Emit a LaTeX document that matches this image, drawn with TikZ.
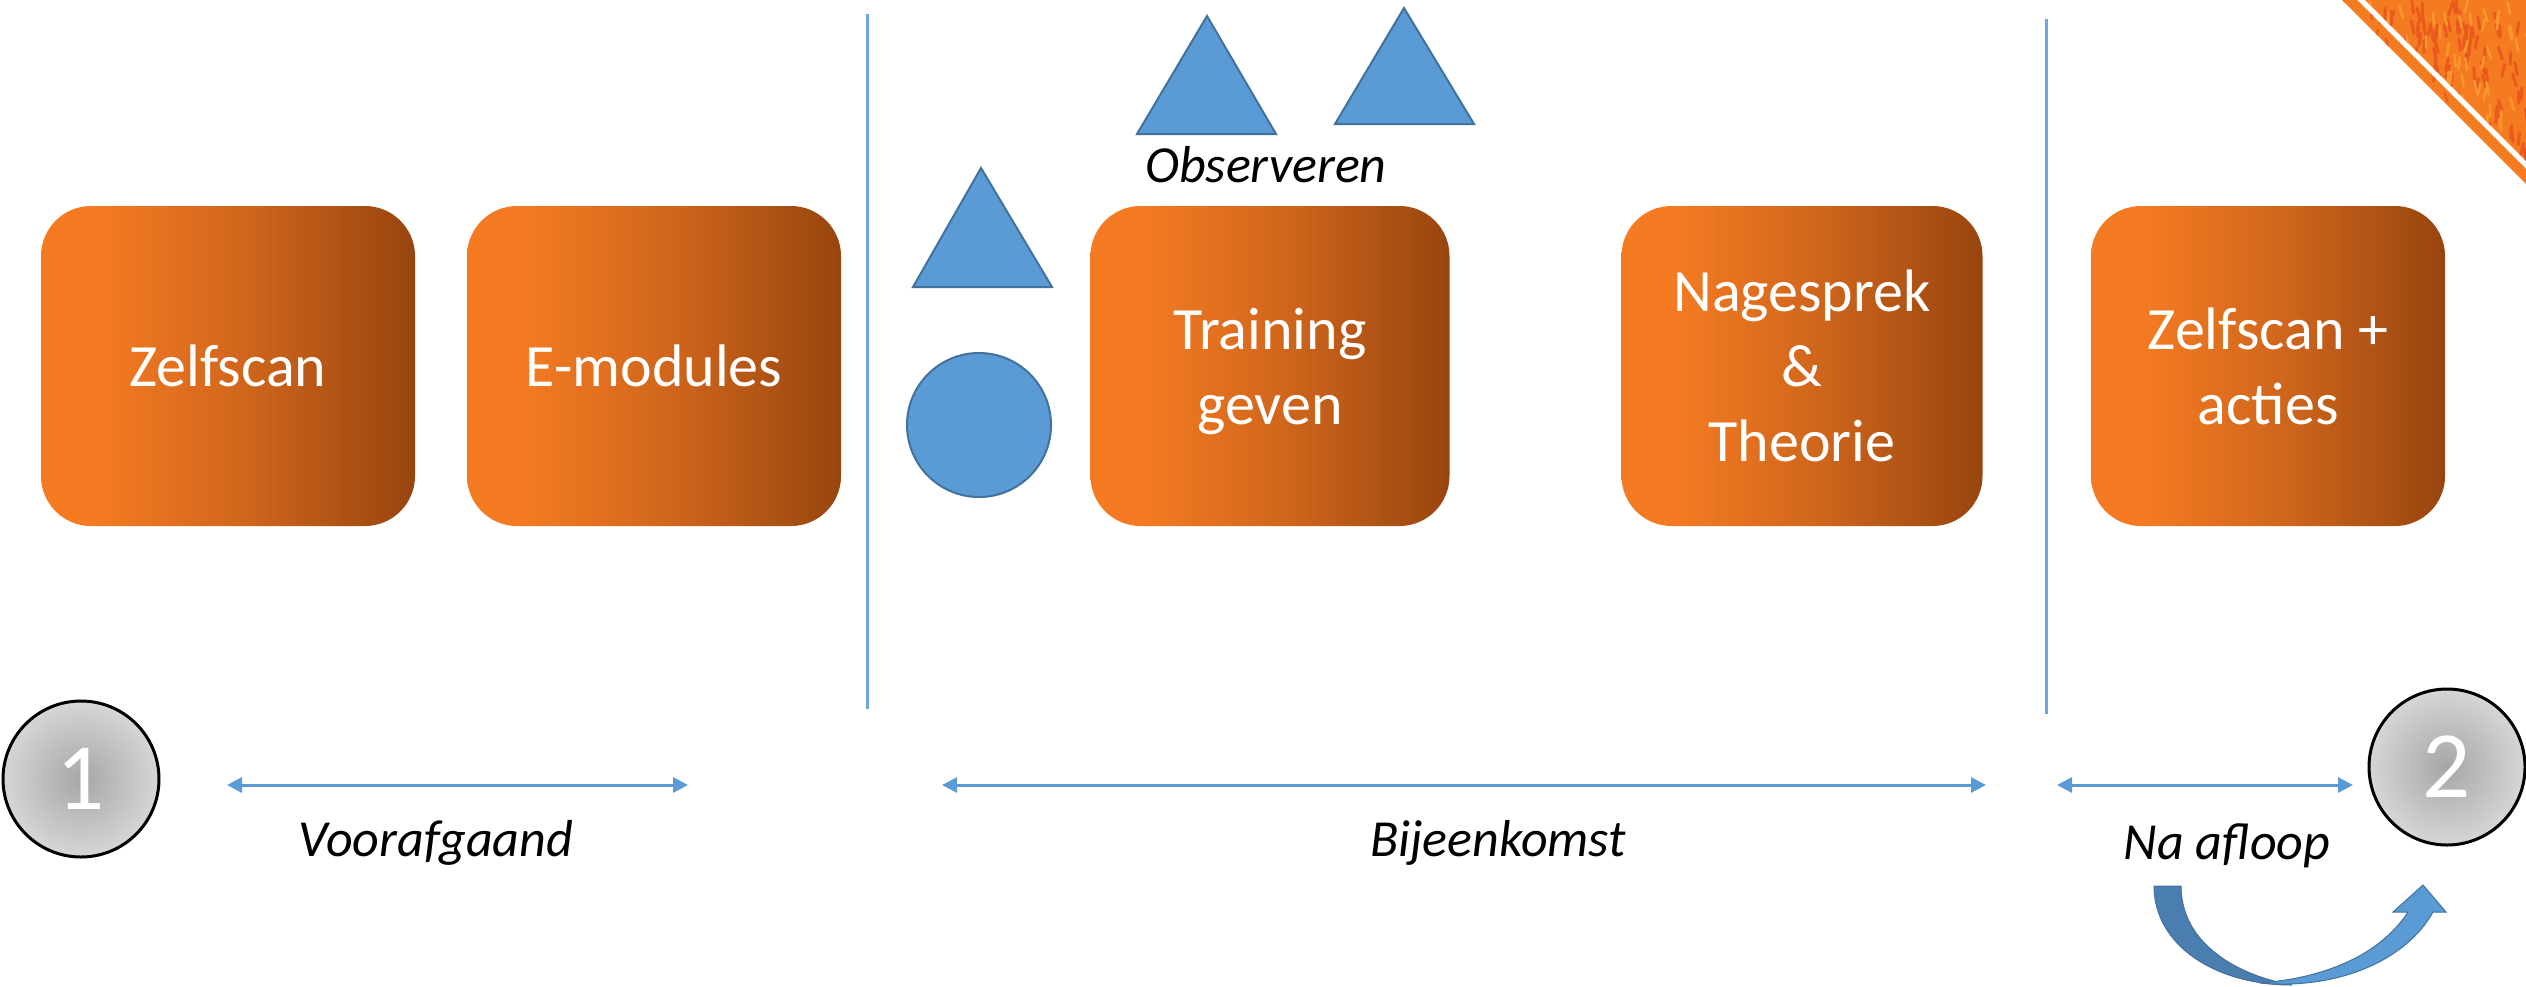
\documentclass[tikz,border=0pt]{standalone}
\usepackage{fontspec}
\setmainfont{Carlito}
\usetikzlibrary{arrows.meta}
\definecolor{orA}{HTML}{F57B22}
\definecolor{orM}{HTML}{D0661C}
\definecolor{orB}{HTML}{97450F}
\definecolor{blueF}{HTML}{5B9BD5}
\definecolor{blueD}{HTML}{41719C}
\definecolor{blueDark}{HTML}{4A7DB0}
\definecolor{lineBlue}{HTML}{6FA8DC}
\definecolor{ciA}{HTML}{A6A6A6}
\definecolor{ciB}{HTML}{D6D6D6}
\definecolor{corA}{HTML}{F47B20}
\definecolor{corB}{HTML}{EA5A1E}
\definecolor{corC}{HTML}{F9962C}
\pgfdeclarehorizontalshading{boxshade}{100bp}{color(0bp)=(orA); color(32bp)=(orA); color(52bp)=(orM); color(75bp)=(orB); color(100bp)=(orB)}
\tikzset{
  phase/.style={shading=boxshade, rounded corners=50pt, inner sep=0pt, text=white,
    align=center, font=\fontsize{60}{75}\selectfont, minimum height=320pt},
  bluesh/.style={fill=blueF, draw=blueD, line width=2pt},
  numcirc/.style={circle, shading=radial, inner color=ciA, outer color=ciB, draw=black,
    line width=3pt, minimum size=156pt, inner sep=0pt, text=white, font=\fontsize{95}{95}\selectfont},
  lbl/.style={font=\fontsize{52}{60}\selectfont\itshape, inner sep=0pt},
  span/.style={draw=blueF, line width=3pt, {Triangle[length=15pt,width=15pt]}-{Triangle[length=15pt,width=15pt]}},
  sep/.style={draw=lineBlue, line width=3pt}
}
\begin{document}
\begin{tikzpicture}[x=1pt,y=-1pt]
\useasboundingbox (0,0) rectangle (2526,986);
% corner decoration
\begin{scope}
\clip (2342,0) -- (2357,0) -- (2526,169) -- (2526,184) -- cycle;
\fill[corA] (2342,0) -- (2357,0) -- (2526,169) -- (2526,184) -- cycle;
\pgfmathsetseed{11}
\foreach \i in {1,...,60}{
  \draw[corB, line width=2pt, line cap=round] (2340+rnd*186, rnd*186) -- ++(rnd*6-3, 8);
}
\end{scope}
\begin{scope}
\clip (2365,0) -- (2526,0) -- (2526,161) -- cycle;
\fill[corA] (2365,0) -- (2526,0) -- (2526,161) -- cycle;
\pgfmathsetseed{7}
\foreach \i in {1,...,160}{
  \draw[corB, line width=3pt, line cap=round] (2360+rnd*170, rnd*165) -- ++(rnd*8-4, 12);
}
\foreach \i in {1,...,90}{
  \draw[corC, line width=2.5pt, line cap=round] (2360+rnd*170, rnd*165) -- ++(rnd*8-4, 12);
}
\end{scope}
% separators
\coordinate (s1t) at (867,14);
\coordinate (s1b) at (867,709);
\coordinate (s2t) at (2046,19);
\coordinate (s2b) at (2046,714);
\draw[sep] (s1t) -- (s1b);
\draw[sep] (s2t) -- (s2b);
% boxes
\node[phase, minimum width=374pt] (zs) at (228,366) {Zelfscan};
\node[phase, minimum width=374pt] (em) at (654,366) {E-modules};
\node[phase, minimum width=359pt] (tg) at (1270,366) {\raisebox{-12pt}[0pt][0pt]{\begin{tabular}{@{}c@{}}Training\\geven\end{tabular}}};
\node[phase, minimum width=361pt] (nt) at (1802,366) {Nagesprek\\\&\\Theorie};
\node[phase, minimum width=354pt] (za) at (2268,366) {Zelfscan +\\acties};
% blue shapes
\draw[bluesh] (1137,134) -- (1207,16) -- (1276,134) -- cycle;
\draw[bluesh] (1335,124) -- (1404,8) -- (1474,124) -- cycle;
\draw[bluesh] (913,287) -- (981,168) -- (1052,287) -- cycle;
\node[circle, bluesh, minimum size=144pt, inner sep=0pt] (obc) at (979,425) {};
\node[lbl] (obs) at (1266,165) {Observeren};
% number circles
\node[numcirc] (c1) at (81,779) {1};
\node[numcirc] (c2) at (2447,767) {2};
% spans
\coordinate (v1) at (227,785);
\coordinate (v2) at (688,785);
\coordinate (b1) at (942,785);
\coordinate (b2) at (1986,785);
\coordinate (n1) at (2057,785);
\coordinate (n2) at (2353,785);
\draw[span] (v1) -- (v2);
\draw[span] (b1) -- (b2);
\draw[span] (n1) -- (n2);
\node[lbl] (voor) at (436,843) {Voorafgaand};
\node[lbl] (bij) at (1498,843) {Bijeenkomst};
\node[lbl] (na) at (2227,846) {Na afloop};
% curved arrow
\draw[fill=blueDark, draw=blueD, line width=1pt] (2154,886) .. controls (2154,945) and (2215,985) .. (2292,985) .. controls (2240,976) and (2181,945) .. (2181,886) -- cycle;
\draw[fill=blueF, draw=blueD, line width=1pt] (2260,983) .. controls (2335,990) and (2405,962) .. (2433,912) -- (2446,912) -- (2423,885) -- (2393,912) -- (2408,912) .. controls (2380,955) and (2325,978) .. (2260,983) -- cycle;
\end{tikzpicture}
\end{document}
